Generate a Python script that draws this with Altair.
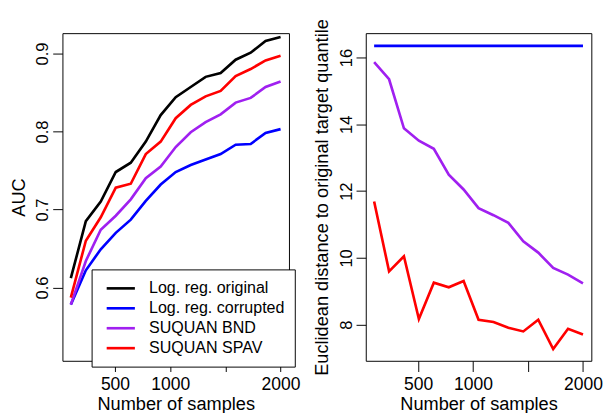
import altair as alt
import pandas as pd

samples = [100, 236, 371, 507, 643, 779, 914, 1050, 1186, 1321, 1457, 1593, 1729, 1864, 2000]

series_names = ["Log. reg. original", "Log. reg. corrupted", "SUQUAN BND", "SUQUAN SPAV"]
series_colors = ["#000000", "#0000FF", "#A020F0", "#FF0000"]

auc_original = [0.612, 0.685, 0.710, 0.748, 0.760, 0.787, 0.821, 0.844, 0.857, 0.870, 0.875, 0.892, 0.901, 0.916, 0.921]
auc_corrupted = [0.578, 0.622, 0.649, 0.670, 0.687, 0.711, 0.732, 0.748, 0.757, 0.764, 0.771, 0.783, 0.784, 0.798, 0.803]
auc_bnd = [0.578, 0.634, 0.674, 0.692, 0.713, 0.740, 0.755, 0.780, 0.799, 0.812, 0.822, 0.837, 0.843, 0.857, 0.864]
auc_spav = [0.587, 0.660, 0.690, 0.728, 0.733, 0.771, 0.787, 0.817, 0.834, 0.845, 0.852, 0.871, 0.880, 0.891, 0.897]

dist_corrupted = [16.35] * 15
dist_bnd = [15.86, 15.35, 13.88, 13.51, 13.27, 12.49, 12.05, 11.49, 11.28, 11.05, 10.50, 10.16, 9.70, 9.50, 9.24]
dist_spav = [11.69, 9.60, 10.05, 8.17, 9.26, 9.12, 9.31, 8.15, 8.08, 7.91, 7.80, 8.15, 7.27, 7.88, 7.71]

x_ticks = [500, 1000, 1500, 2000]
auc_ticks = [0.6, 0.7, 0.8, 0.9]
dist_ticks = [8, 10, 12, 14, 16]

FONT = "Liberation Sans"

def long_df(cols):
    rows = []
    for name, vals in cols:
        for n, v in zip(samples, vals):
            rows.append({"n": n, "series": name, "value": v})
    return pd.DataFrame(rows)

auc_df = long_df([
    (series_names[0], auc_original),
    (series_names[1], auc_corrupted),
    (series_names[2], auc_bnd),
    (series_names[3], auc_spav),
])
dist_df = long_df([
    (series_names[1], dist_corrupted),
    (series_names[2], dist_bnd),
    (series_names[3], dist_spav),
])

x_axis = alt.Axis(
    values=x_ticks, format="d",
    labelExpr="datum.value == 1500 ? '' : datum.label",
    title="Number of samples", tickSize=11, labelPadding=5,
    titlePadding=1,
)

color_scale = alt.Scale(domain=series_names, range=series_colors)

left = alt.Chart(auc_df).mark_line(strokeWidth=2.7, clip=True).encode(
    x=alt.X("n:Q", scale=alt.Scale(domain=[24, 2076], nice=False, zero=False), axis=x_axis),
    y=alt.Y("value:Q", scale=alt.Scale(domain=[0.506, 0.926], nice=False, zero=False),
            axis=alt.Axis(values=auc_ticks, format=".1f", title="AUC")),
    color=alt.Color("series:N", scale=color_scale, sort=series_names,
                    legend=alt.Legend(
                        title=None, orient="none", legendX=30, legendY=243,
                        symbolType="M-0.5,0H3.125", symbolSize=256, symbolStrokeWidth=2.7,
                        labelFontSize=16.5, labelFont=FONT, labelColor="black",
                        labelOffset=30, padding=10, rowPadding=2.5,
                        strokeColor="black", fillColor="white", labelLimit=300,
                    )),
    order=alt.Order("n:Q"),
).properties(width=233, height=337)

right = alt.Chart(dist_df).mark_line(strokeWidth=2.7, clip=True).encode(
    x=alt.X("n:Q", scale=alt.Scale(domain=[24, 2076], nice=False, zero=False), axis=x_axis),
    y=alt.Y("value:Q", scale=alt.Scale(domain=[6.92, 16.73], nice=False, zero=False),
            axis=alt.Axis(values=dist_ticks, format="d",
                          title="Euclidean distance to original target quantile")),
    color=alt.Color("series:N", scale=color_scale, legend=None),
    order=alt.Order("n:Q"),
).properties(width=232, height=337)

chart = alt.hconcat(left, right, spacing=12).resolve_scale(color="independent").properties(
    padding={"left": 1, "top": 4, "right": 0, "bottom": 0}
).configure_view(
    stroke="black", strokeWidth=1
).configure_axis(
    grid=False, domain=False, tickColor="black", tickWidth=1,
    labelColor="black", titleColor="black", labelFont=FONT, titleFont=FONT,
    labelFontSize=18, titleFontSize=18.7, titleFontWeight="normal",
    titleLimit=1000,
).configure_axisY(
    labelAngle=270, labelFontSize=17, tickSize=10, labelPadding=1, titlePadding=6,
)

chart.save("out.html", embed_options={"renderer": "svg", "actions": False})
